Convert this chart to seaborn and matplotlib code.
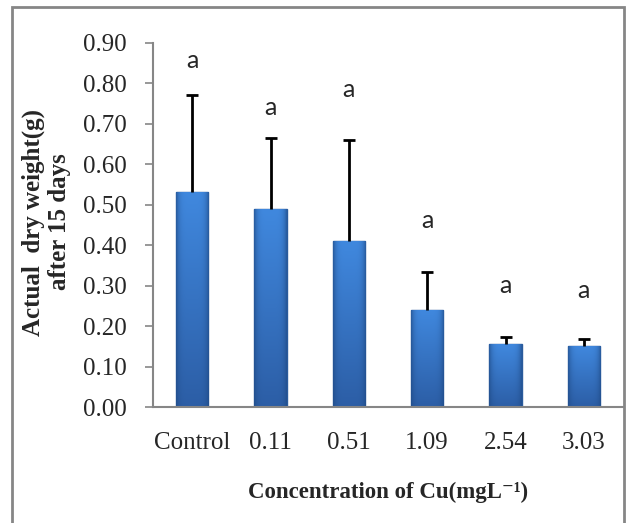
import numpy as np
import pandas as pd
import matplotlib
matplotlib.use("Agg")
import matplotlib.pyplot as plt
import seaborn as sns
from matplotlib.patches import Rectangle

# ---------------- data ----------------------------------------
concentrations = ["Control", "0.11", "0.51", "1.09", "2.54", "3.03"]
dry_weight = [0.532, 0.489, 0.410, 0.240, 0.155, 0.152]
std_err = [0.240, 0.176, 0.250, 0.093, 0.017, 0.016]
letters = ["a", "a", "a", "a", "a", "a"]
letter_y = [0.857, 0.740, 0.785, 0.460, 0.300, 0.287]
y_ticks = [0.0, 0.1, 0.2, 0.3, 0.4, 0.5, 0.6, 0.7, 0.8, 0.9]

df = pd.DataFrame({"conc": concentrations, "weight": dry_weight})

sns.set_style("white")
plt.rcParams["font.family"] = ["Liberation Serif", "DejaVu Serif"]

fig = plt.figure(figsize=(6.26, 5.23), dpi=100)
ax = fig.add_axes([153 / 626, 1 - 407 / 523, 470 / 626, 364 / 523])

sns.barplot(data=df, x="conc", y="weight", color="#3b7bd0", width=0.41,
            edgecolor="#2a5b9c", linewidth=1.0, ax=ax)

# bevel-like shading inside each bar: lighter top, darker bottom and sides
top_c = np.array(matplotlib.colors.to_rgb("#4088de"))
bot_c = np.array(matplotlib.colors.to_rgb("#2c5ea6"))
side_c = np.array(matplotlib.colors.to_rgb("#1f4a85"))
vert = np.linspace(0, 1, 48)[:, None, None]          # 0 = top row
horiz = (np.abs(np.linspace(-1, 1, 48)) ** 5)[None, :, None]
base = top_c * (1 - vert) + bot_c * vert
shade = base * (1 - 0.7 * horiz) + side_c * 0.7 * horiz
for p in ax.patches:
    x0, y0 = p.get_x(), p.get_y()
    w, h = p.get_width(), p.get_height()
    im = ax.imshow(shade, extent=[x0, x0 + w, y0, y0 + h],
                   aspect="auto", zorder=p.get_zorder() + 0.1)
    im.set_clip_path(p)

# upper error bars only (lower cap hidden)
xpos = np.arange(len(concentrations))
eb = ax.errorbar(xpos, dry_weight, yerr=[np.zeros(len(std_err)), std_err], fmt="none",
                 ecolor="black", elinewidth=2, capsize=4.5, capthick=2, zorder=5)
eb[1][0].set_visible(False)

for i, (lab, ly) in enumerate(zip(letters, letter_y)):
    ax.text(i, ly, lab, ha="center", va="center", fontsize=18,
            family=["Lato", "DejaVu Sans"])

ax.set_xlim(-0.5, len(concentrations) - 0.5)
ax.set_ylim(0, 0.9)
ax.set_yticks(y_ticks)
ax.set_yticklabels([f"{v:.2f}" for v in y_ticks], fontsize=18)
ax.set_xticks(xpos)
ax.set_xticklabels(concentrations, fontsize=18)
ax.set_xticks(np.arange(-0.5, len(concentrations)), minor=True)
ax.tick_params(axis="x", which="major", length=0, pad=18)
ax.tick_params(axis="x", which="minor", length=6, width=1.2, color="#868686", direction="out")
ax.tick_params(axis="y", length=6, width=1.2, color="#868686", direction="out", pad=13, left=True)
ax.set_xlabel("")
ax.set_ylabel("")

for s in ["top", "right"]:
    ax.spines[s].set_visible(False)
for s in ["left", "bottom"]:
    ax.spines[s].set_color("#868686")
    ax.spines[s].set_linewidth(1.5)

fig.text(46 / 626, 1 - 222 / 523, "Actual  dry weight(g)\nafter 15 days", rotation=90,
         ha="center", va="center", fontsize=18, fontweight="bold", multialignment="center",
         linespacing=1.15)
fig.text(388 / 626, 1 - 492 / 523, "Concentration of Cu(mgL\u207b\u00b9)", ha="center", va="center",
         fontsize=16.5, fontweight="bold")

# outer chart-area border
fig.patches.append(Rectangle((12 / 626, -0.01), 612 / 626, 1 - 7 / 523 + 0.01,
                             transform=fig.transFigure, fill=False, edgecolor="#868686",
                             linewidth=2))

fig.savefig("out.png", dpi=100)
